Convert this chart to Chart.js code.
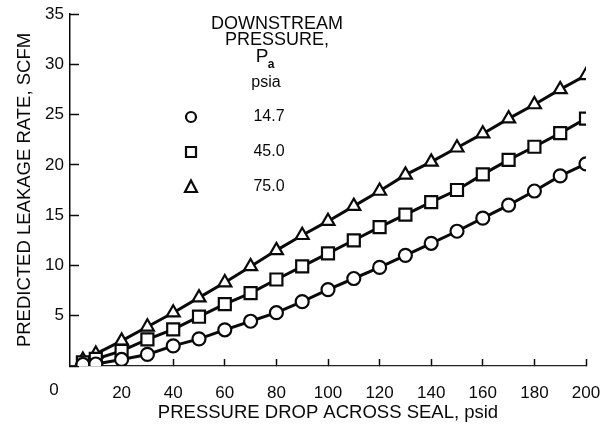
<!DOCTYPE html>
<html>
<head>
<meta charset="utf-8">
<script src="https://cdn.jsdelivr.net/npm/chart.js@4.4.1/dist/chart.umd.min.js"></script>
<style>
  html, body { margin: 0; padding: 0; background: #ffffff; }
  #wrap { width: 613px; height: 430px; position: relative; }
</style>
</head>
<body>
<div id="wrap"><canvas id="c" width="613" height="430"></canvas></div>
<script>
// ---- data ----
const pressureDrop = [5, 10, 20, 30, 40, 50, 60, 70, 80, 90, 100, 110, 120, 130, 140, 150, 160, 170, 180, 190, 200];
const leak147 = [0.15, 0.2, 0.65, 1.15, 2.0, 2.7, 3.6, 4.45, 5.3, 6.4, 7.6, 8.7, 9.8, 11.0, 12.2, 13.4, 14.7, 16.0, 17.4, 18.9, 20.1];
const leak450 = [0.35, 0.7, 1.5, 2.65, 3.65, 4.9, 6.15, 7.25, 8.6, 9.9, 11.2, 12.5, 13.8, 15.05, 16.3, 17.5, 19.05, 20.5, 21.8, 23.15, 24.6];
const leak750 = [0.6, 1.2, 2.5, 3.9, 5.3, 6.8, 8.3, 9.9, 11.5, 13.0, 14.4, 15.9, 17.4, 19.0, 20.3, 21.7, 23.1, 24.6, 26.0, 27.5, 28.9];
const seriesLabels = ['14.7', '45.0', '75.0'];
const seriesStyles = ['circle', 'rect', 'triangle'];
const xTicks = [0, 20, 40, 60, 80, 100, 120, 140, 160, 180, 200];
const yTicks = [0, 5, 10, 15, 20, 25, 30, 35];
const xHiddenTickMarks = [0, 20];
const legendHeader = ['DOWNSTREAM', 'PRESSURE,'];
const xTitle = 'PRESSURE DROP ACROSS SEAL, psid';
const yTitle = 'PREDICTED LEAKAGE RATE, SCFM';

const FONT = '"Liberation Sans", Arial, Helvetica, sans-serif';
const INK = '#0a0a0a';

function toPoints(ys) { return pressureDrop.map((x, i) => ({ x: x, y: ys[i] })); }

const allSeries = [leak147, leak450, leak750];
const radii = [6.5, 8.5, 7.5];

const datasets = allSeries.map((ys, i) => ({
  label: seriesLabels[i],
  data: toPoints(ys),
  borderColor: INK,
  borderWidth: 3,
  pointStyle: seriesStyles[i],
  pointRadius: radii[i],
  pointBorderWidth: 2.2,
  pointBorderColor: INK,
  pointBackgroundColor: '#ffffff',
  fill: false,
  tension: 0
}));

const legendPlugin = {
  id: 'legendBlock',
  afterDraw(chart) {
    const ctx = chart.ctx;
    const xs = chart.scales.x, ys = chart.scales.y;
    const left = xs.getPixelForValue(0);
    const bottom = ys.getPixelForValue(0);
    ctx.save();
    ctx.fillStyle = INK;
    // shared origin label "0"
    ctx.font = '17px ' + FONT;
    ctx.textAlign = 'center';
    ctx.textBaseline = 'middle';
    ctx.fillText('0', left - 16, bottom + 24);

    // legend block
    const cx = 277;
    ctx.font = '18px ' + FONT;
    ctx.fillText(legendHeader[0], cx, 24);
    ctx.fillText(legendHeader[1], cx, 40);
    ctx.font = '19px ' + FONT;
    ctx.fillText('P', 262, 57);
    ctx.font = 'bold 12px ' + FONT;
    ctx.fillText('a', 271, 65);
    ctx.font = '16px ' + FONT;
    ctx.fillText('psia', 266, 83);

    const rowsY = [117, 152, 187];
    const symX = 191;
    ctx.lineWidth = 2.2;
    ctx.strokeStyle = INK;
    rowsY.forEach((ry, i) => {
      ctx.font = '16px ' + FONT;
      ctx.fillText(seriesLabels[i], 269, ry);
      ctx.beginPath();
      if (seriesStyles[i] === 'circle') {
        ctx.arc(symX, ry, 5, 0, Math.PI * 2);
      } else if (seriesStyles[i] === 'rect') {
        ctx.rect(symX - 5, ry - 5, 10, 10);
      } else {
        ctx.moveTo(symX, ry - 6.5);
        ctx.lineTo(symX + 6, ry + 5);
        ctx.lineTo(symX - 6, ry + 5);
        ctx.closePath();
      }
      ctx.stroke();
    });
    ctx.restore();
  }
};

new Chart(document.getElementById('c'), {
  type: 'line',
  data: { datasets: datasets },
  options: {
    responsive: false,
    animation: false,
    devicePixelRatio: 1,
    layout: { padding: { left: 0, right: 27, top: 14, bottom: 0 } },
    plugins: { legend: { display: false }, tooltip: { enabled: false } },
    scales: {
      x: {
        type: 'linear',
        min: 0,
        max: 200,
        afterBuildTicks: s => { s.ticks = xTicks.map(v => ({ value: v })); },
        afterFit: s => { s.height = 64; s.paddingLeft = 0; s.paddingRight = 0; },
        ticks: {
          callback: v => (v === 0 ? '' : String(v)),
          font: { size: 17, family: FONT },
          color: INK,
          padding: 24,
          maxRotation: 0,
          autoSkip: false
        },
        grid: {
          display: true,
          drawOnChartArea: false,
          drawTicks: true,
          tickLength: -7,
          tickWidth: 1.5,
          tickColor: c => (c.tick && xHiddenTickMarks.includes(c.tick.value) ? 'rgba(0,0,0,0)' : INK),
          color: INK
        },
        border: { display: true, color: '#222222', width: 1.2, dash: [7, 3] },
        title: {
          display: true,
          text: xTitle,
          font: { size: 18.5, family: FONT },
          color: INK,
          padding: 6
        }
      },
      y: {
        type: 'linear',
        min: 0,
        max: 35,
        afterBuildTicks: s => { s.ticks = yTicks.map(v => ({ value: v })); },
        afterFit: s => { s.width = 70; s.paddingTop = 0; s.paddingBottom = 0; },
        ticks: {
          callback: v => (v === 0 ? '' : String(v)),
          font: { size: 17, family: FONT },
          color: INK,
          padding: 15,
          autoSkip: false
        },
        grid: {
          display: true,
          drawOnChartArea: false,
          drawTicks: true,
          tickLength: -9,
          tickWidth: 1.5,
          tickColor: INK,
          color: INK
        },
        border: { display: true, color: INK, width: 1.5 },
        title: {
          display: true,
          text: yTitle,
          font: { size: 18.5, family: FONT },
          color: INK,
          padding: 14
        }
      }
    }
  },
  plugins: [legendPlugin]
});
</script>
</body>
</html>
